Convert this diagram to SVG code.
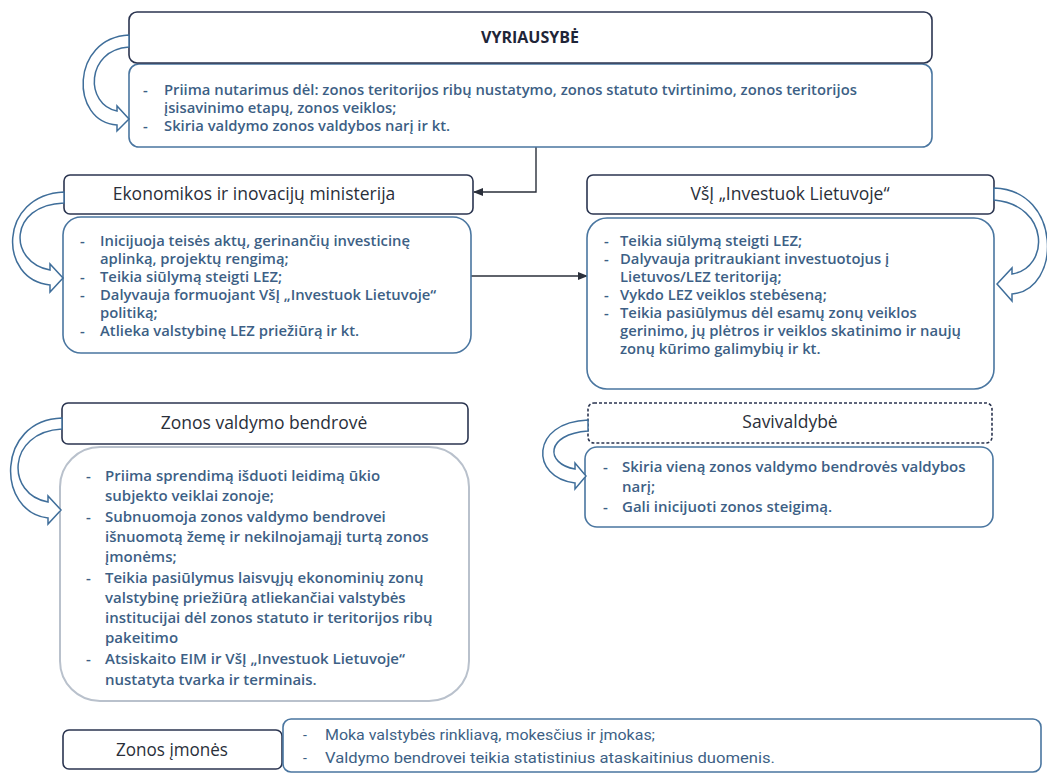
<svg xmlns="http://www.w3.org/2000/svg" width="1047" height="774" viewBox="0 0 1047 774">
<defs>
<marker id="ah" markerWidth="10" markerHeight="8" refX="9" refY="4" orient="auto" markerUnits="userSpaceOnUse">
<path d="M0,0 L10,4 L0,8 Z" fill="#2a2f3a"/>
</marker>
<style>
.hdr{fill:#fff;stroke:#2b3550;stroke-width:1.6}
.hdrd{fill:#fff;stroke:#2b3550;stroke-width:1.6;stroke-dasharray:3 2}
.body{fill:#fff;stroke:#4a76a0;stroke-width:1.6}
.bodyg{fill:#fff;stroke:#b9c1cc;stroke-width:2}
.ht{font-family:"Open Sans","Liberation Sans",sans-serif;font-size:17.5px;fill:#2a2f3a;text-anchor:middle}
.htb{font-family:"Open Sans","Liberation Sans",sans-serif;font-size:16px;font-weight:700;fill:#1f2538;text-anchor:middle}
.bt{font-family:"Open Sans","Liberation Sans",sans-serif;font-size:14.8px;font-weight:600;fill:#3d5f85}
.bt2{font-family:"Open Sans","Liberation Sans",sans-serif;font-size:15px;font-weight:600;fill:#3d5f85}
.bt3{font-family:"Open Sans","Liberation Sans",sans-serif;font-size:15px;font-weight:600;fill:#3d5f85}
.btn{font-family:Roboto,"Liberation Sans",sans-serif;font-size:14px;fill:#3d5f85}
.cv{fill:#fff;stroke:#3f6e9a;stroke-width:1.5;stroke-linejoin:miter}
.con{fill:none;stroke:#2a2f3a;stroke-width:1.4}
</style>
</defs>

<g id="connectors">
<path class="con" d="M536,147 L536,192 L474,192" marker-end="url(#ah)"/>
<path class="con" d="M471,276 L587,276" marker-end="url(#ah)"/>
</g>

<g id="vyriausybe">
<rect class="body" x="129" y="64" width="803" height="83" rx="10"/>
<rect class="hdr" x="129" y="12" width="803" height="51" rx="8"/>
<text class="htb" x="530" y="43">VYRIAUSYBĖ</text>
<text class="bt" x="143" y="95">-</text>
<text class="bt" x="164" y="95">Priima nutarimus dėl: zonos teritorijos ribų nustatymo, zonos statuto tvirtinimo, zonos teritorijos</text>
<text class="bt" x="164" y="113">įsisavinimo etapų, zonos veiklos;</text>
<text class="bt" x="143" y="131">-</text>
<text class="bt" x="164" y="131">Skiria valdymo zonos valdybos narį ir kt.</text>
<path class="cv" d="M129,35 C70,38 70,122 117,125 L117,131 L129,119 L117,106 L117,111 C85,105 85,50 129,47 Z"/>
</g>

<g id="eim">
<rect class="body" x="63" y="217" width="408" height="136" rx="18"/>
<rect class="hdr" x="64" y="175" width="409" height="39" rx="6"/>
<text class="ht" x="254" y="200">Ekonomikos ir inovacijų ministerija</text>
<text class="bt" x="80" y="246">-</text>
<text class="bt" x="100" y="246">Inicijuoja teisės aktų, gerinančių investicinę</text>
<text class="bt" x="100" y="264">aplinką, projektų rengimą;</text>
<text class="bt" x="80" y="282">-</text>
<text class="bt" x="100" y="282">Teikia siūlymą steigti LEZ;</text>
<text class="bt" x="80" y="300">-</text>
<text class="bt" x="100" y="300">Dalyvauja formuojant VšĮ „Investuok Lietuvoje“</text>
<text class="bt" x="100" y="318">politiką;</text>
<text class="bt" x="80" y="336">-</text>
<text class="bt" x="100" y="336">Atlieka valstybinę LEZ priežiūrą ir kt.</text>
<path class="cv" d="M64,192 C-2,195 -2,280 50,285 L50,292 L63,278 L50,264 L50,270 C8,262 8,205 64,203 Z"/>
</g>

<g id="investuok">
<rect class="body" x="587" y="218" width="407" height="171" rx="20"/>
<rect class="hdr" x="587" y="175" width="407" height="39" rx="6"/>
<text class="ht" x="790" y="200">VšĮ „Investuok Lietuvoje“</text>
<text class="bt" x="604" y="246">-</text>
<text class="bt" x="620" y="246">Teikia siūlymą steigti LEZ;</text>
<text class="bt" x="604" y="264">-</text>
<text class="bt" x="620" y="264">Dalyvauja pritraukiant investuotojus į</text>
<text class="bt" x="620" y="282">Lietuvos/LEZ teritoriją;</text>
<text class="bt" x="604" y="300">-</text>
<text class="bt" x="620" y="300">Vykdo LEZ veiklos stebėseną;</text>
<text class="bt" x="604" y="318">-</text>
<text class="bt" x="620" y="318">Teikia pasiūlymus dėl esamų zonų veiklos</text>
<text class="bt" x="620" y="336">gerinimo, jų plėtros ir veiklos skatinimo ir naujų</text>
<text class="bt" x="620" y="354">zonų kūrimo galimybių ir kt.</text>
<path class="cv" d="M994,188 C1062,190 1062,290 1012,294 L1012,301 L997,284 L1012,268 L1012,274 C1050,268 1050,205 994,200 Z"/>
</g>

<g id="valdymo-bendrove">
<rect class="bodyg" x="60" y="447" width="409" height="254" rx="40"/>
<rect class="hdr" x="62" y="403" width="406" height="41" rx="6"/>
<text class="ht" x="264" y="429">Zonos valdymo bendrovė</text>
<text class="bt2" x="86" y="481">-</text>
<text class="bt2" x="105" y="481">Priima sprendimą išduoti leidimą ūkio</text>
<text class="bt2" x="105" y="501">subjekto veiklai zonoje;</text>
<text class="bt2" x="86" y="522">-</text>
<text class="bt2" x="105" y="522">Subnuomoja zonos valdymo bendrovei</text>
<text class="bt2" x="105" y="542">išnuomotą žemę ir nekilnojamąjį turtą zonos</text>
<text class="bt2" x="105" y="562">įmonėms;</text>
<text class="bt2" x="86" y="583">-</text>
<text class="bt2" x="105" y="583">Teikia pasiūlymus laisvųjų ekonominių zonų</text>
<text class="bt2" x="105" y="603">valstybinę priežiūrą atliekančiai valstybės</text>
<text class="bt2" x="105" y="623">institucijai dėl zonos statuto ir teritorijos ribų</text>
<text class="bt2" x="105" y="643">pakeitimo</text>
<text class="bt2" x="86" y="664">-</text>
<text class="bt2" x="105" y="664">Atsiskaito EIM ir VšĮ „Investuok Lietuvoje“</text>
<text class="bt2" x="105" y="685">nustatyta tvarka ir terminais.</text>
<path class="cv" d="M62,418 C-4,420 -4,512 48,518 L48,524 L61,510 L48,496 L48,502 C6,495 6,432 62,429 Z"/>
</g>

<g id="savivaldybe">
<rect class="body" x="585" y="447" width="408" height="80" rx="12"/>
<rect class="hdrd" x="588" y="403" width="404" height="40" rx="6"/>
<text class="ht" x="790" y="428">Savivaldybė</text>
<text class="bt3" x="603" y="472">-</text>
<text class="bt3" x="622" y="472">Skiria vieną zonos valdymo bendrovės valdybos</text>
<text class="bt3" x="622" y="492">narį;</text>
<text class="bt3" x="603" y="512">-</text>
<text class="bt3" x="622" y="512">Gali inicijuoti zonos steigimą.</text>
<path class="cv" d="M588,420 C530,422 530,478 575,483 L575,489 L586,476 L575,463 L575,469 C545,464 545,434 588,431 Z"/>
</g>

<g id="zonos-imones">
<rect class="hdr" x="63" y="730" width="219" height="39" rx="6"/>
<text class="ht" x="172" y="756" textLength="112" lengthAdjust="spacingAndGlyphs">Zonos įmonės</text>
</g>

<g id="imones-veikla">
<rect class="body" x="283" y="719" width="758" height="53" rx="8"/>
<text class="btn" x="303" y="740">-</text>
<text class="btn" x="325" y="740" textLength="330" lengthAdjust="spacingAndGlyphs">Moka valstybės rinkliavą, mokesčius ir įmokas;</text>
<text class="btn" x="303" y="763">-</text>
<text class="btn" x="325" y="763" textLength="450" lengthAdjust="spacingAndGlyphs">Valdymo bendrovei teikia statistinius ataskaitinius duomenis.</text>
</g>
</svg>
